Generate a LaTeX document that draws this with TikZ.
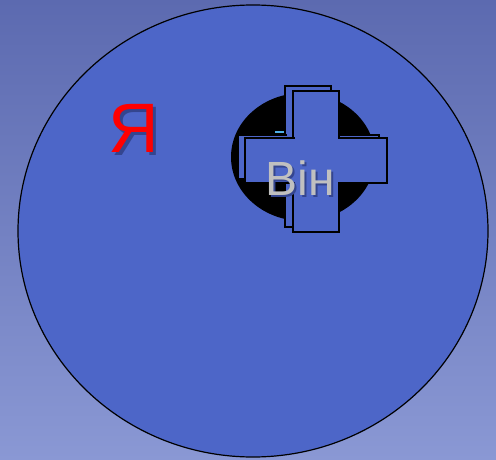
\documentclass[tikz,border=0pt]{standalone}
\usepackage{fontspec}
\setmainfont{Liberation Sans}
\definecolor{bgtop}{HTML}{5C6AB0}
\definecolor{bgbot}{HTML}{8A98D4}
\definecolor{disk}{HTML}{4D66C8}
\definecolor{crossc}{HTML}{4D66C8}
\definecolor{ya}{HTML}{FF0000}
\definecolor{vin}{HTML}{C0C0C0}
\definecolor{cyanmark}{HTML}{4FB0E8}
\definecolor{shadowc}{HTML}{34458F}
\newcommand{\shadowtext}[3]{\makebox[0pt][l]{\hspace{#1}\raisebox{-#1}{\color{shadowc}#2}}{\color{#3}#2}}
\tikzset{
  crossbar/.style={fill=crossc, draw=black, line width=1.4pt},
  bigtext/.style={font=\fontsize{#1}{#1}\selectfont, inner sep=0pt},
}
\begin{document}
\begin{tikzpicture}[x=1pt,y=-1pt]
\shade[top color=bgtop, bottom color=bgbot] (0,0) rectangle (496,460);
\useasboundingbox (0,0) rectangle (496,460);
% big disk
\draw[fill=disk, line width=1.2pt] (253,231) ellipse [x radius=235, y radius=226];
% black ellipse
\fill[black] (303,157) ellipse [x radius=72, y radius=64];
% back cross
\draw[crossbar] (285,86) rectangle (331,227);
\draw[crossbar] (238,135) rectangle (379,179);
\fill[crossc] (286.5,134) rectangle (329.5,180);
% small mark
\draw[draw=cyanmark, line width=2pt] (275,132) -- (284,132);
% front cross
\draw[crossbar] (293,91) rectangle (339,232);
\draw[crossbar] (245,138) rectangle (387,183);
\fill[crossc] (294.5,137) rectangle (337.5,184);
% texts with shadows
\node[bigtext=70] (ya) at (134,130) {\shadowtext{3pt}{Я}{ya}};
\node[bigtext=48] (vin) at (300,179) {\shadowtext{2.5pt}{Він}{vin}};
\end{tikzpicture}
\end{document}
